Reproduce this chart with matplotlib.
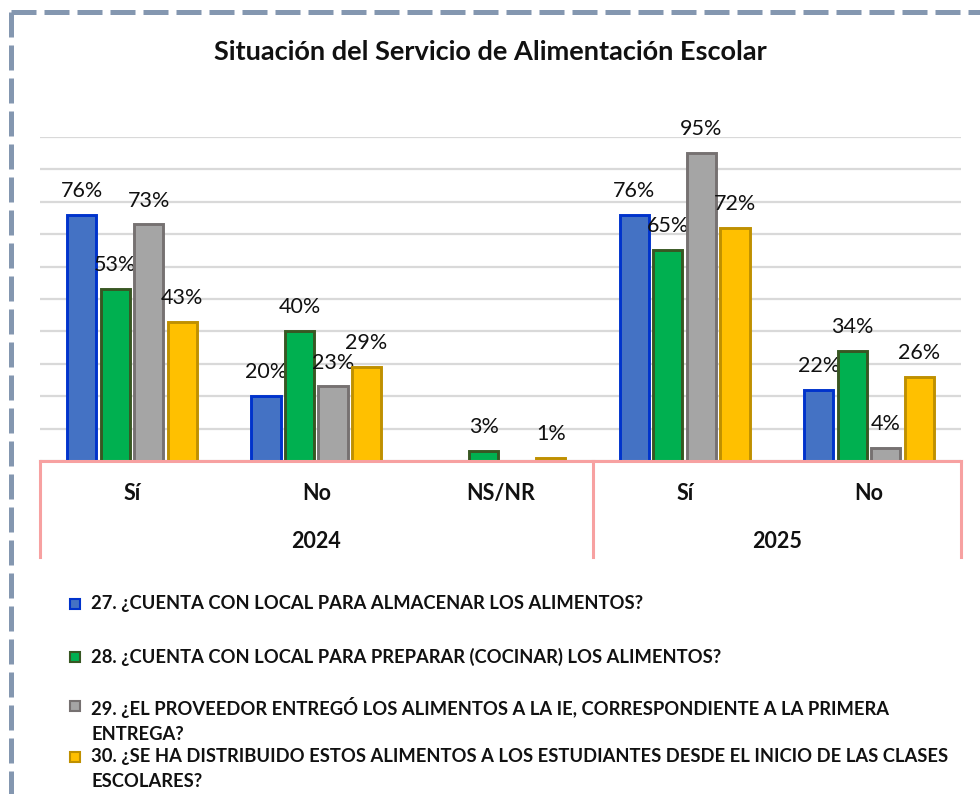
import matplotlib.pyplot as plt
import numpy as np
from matplotlib.lines import Line2D
from matplotlib.patches import Rectangle

plt.rcParams['font.family'] = ['Lato', 'DejaVu Sans']

# data
categories = ['Sí', 'No', 'NS/NR', 'Sí', 'No']
years = ['2024', '2025']
year_pos = [1.0, 3.5]
p27 = [76, 20, np.nan, 76, 22]
p28 = [53, 40, 3, 65, 34]
p29 = [73, 23, np.nan, 95, 4]
p30 = [43, 29, 1, 72, 26]
series_names = [
    '27. ¿CUENTA CON LOCAL PARA ALMACENAR LOS ALIMENTOS?',
    '28. ¿CUENTA CON LOCAL PARA PREPARAR (COCINAR) LOS ALIMENTOS?',
    '29. ¿EL PROVEEDOR ENTREGÓ LOS ALIMENTOS A LA IE, CORRESPONDIENTE A LA PRIMERA\nENTREGA?',
    '30. ¿SE HA DISTRIBUIDO ESTOS ALIMENTOS A LOS ESTUDIANTES DESDE EL INICIO DE LAS CLASES\nESCOLARES?',
]

fills = ['#4472C4', '#00B050', '#A5A5A5', '#FFC000']
edges = ['#0033CC', '#385723', '#767171', '#BF9000']
pink = '#F7A1A1'

fig = plt.figure(figsize=(9.8, 7.94), dpi=100)
ax = fig.add_axes([0.0408, 0.4194, 0.9398, 0.4081])

x = np.arange(len(categories))
step = 0.182
width = 0.158
for i, vals in enumerate([p27, p28, p29, p30]):
    bars = ax.bar(x + (i - 1.5) * step, vals, width, color=fills[i],
                  edgecolor=edges[i], linewidth=2.1, zorder=3)
    labels = ['' if np.isnan(v) else f'{v:.0f}%' for v in np.array(vals, dtype=float)]
    ax.bar_label(bars, labels=labels, padding=10, fontsize=15.5, color='#111111',
                 clip_on=False)

ax.set_xlim(-0.5, 4.5)
ax.set_ylim(0, 100)
ax.set_yticks(np.arange(0, 101, 10))
ax.yaxis.grid(True, color='#D9D9D9', linewidth=1.6, zorder=0)
ax.set_axisbelow(True)
ax.tick_params(left=False, bottom=False, labelleft=False, labelbottom=False)
for s in ax.spines.values():
    s.set_visible(False)

# multi-level category axis
tr = ax.get_xaxis_transform()
ax.plot([-0.5, 4.5], [0, 0], color=pink, lw=2.2, transform=tr, clip_on=False, zorder=4)
for xv in [-0.5, 2.5, 4.5]:
    ax.plot([xv, xv], [0, -0.296], color=pink, lw=2.2, transform=tr, clip_on=False)
for xi, c in zip(x, categories):
    ax.text(xi, -0.099, c, transform=tr, ha='center', va='center',
            fontsize=15.5, fontweight='bold', color='#111111')
for xp, y in zip(year_pos, years):
    ax.text(xp, -0.247, y, transform=tr, ha='center', va='center',
            fontsize=15.5, fontweight='bold', color='#111111')

fig.text(0.5, 0.9345, 'Situación del Servicio de Alimentación Escolar',
         ha='center', va='center', fontsize=19.5, fontweight='bold', color='#111111')

# legend
leg_y = [604, 657, 706, 757]
for i, name in enumerate(series_names):
    yy = 1 - leg_y[i] / 794
    fig.patches.append(Rectangle((70 / 980, yy - 5 / 794), 10 / 980, 10 / 794,
                                 transform=fig.transFigure, facecolor=fills[i],
                                 edgecolor=edges[i], linewidth=1.5))
    fig.text(91 / 980, yy + 9 / 794, name, ha='left', va='top',
             fontsize=13.2, fontweight='bold', color='#111111', linespacing=1.55)

# dashed frame
frame = '#8497B0'
fig.add_artist(Line2D([11 / 980, 1.0], [1 - 12 / 794, 1 - 12 / 794], color=frame,
                      lw=3.6, linestyle=(0, (5, 1.6))))
fig.add_artist(Line2D([11 / 980, 11 / 980], [1 - 12 / 794, 0], color=frame,
                      lw=3.6, linestyle=(0, (5, 1.6))))

fig.savefig('out.png', dpi=100, facecolor='white')
